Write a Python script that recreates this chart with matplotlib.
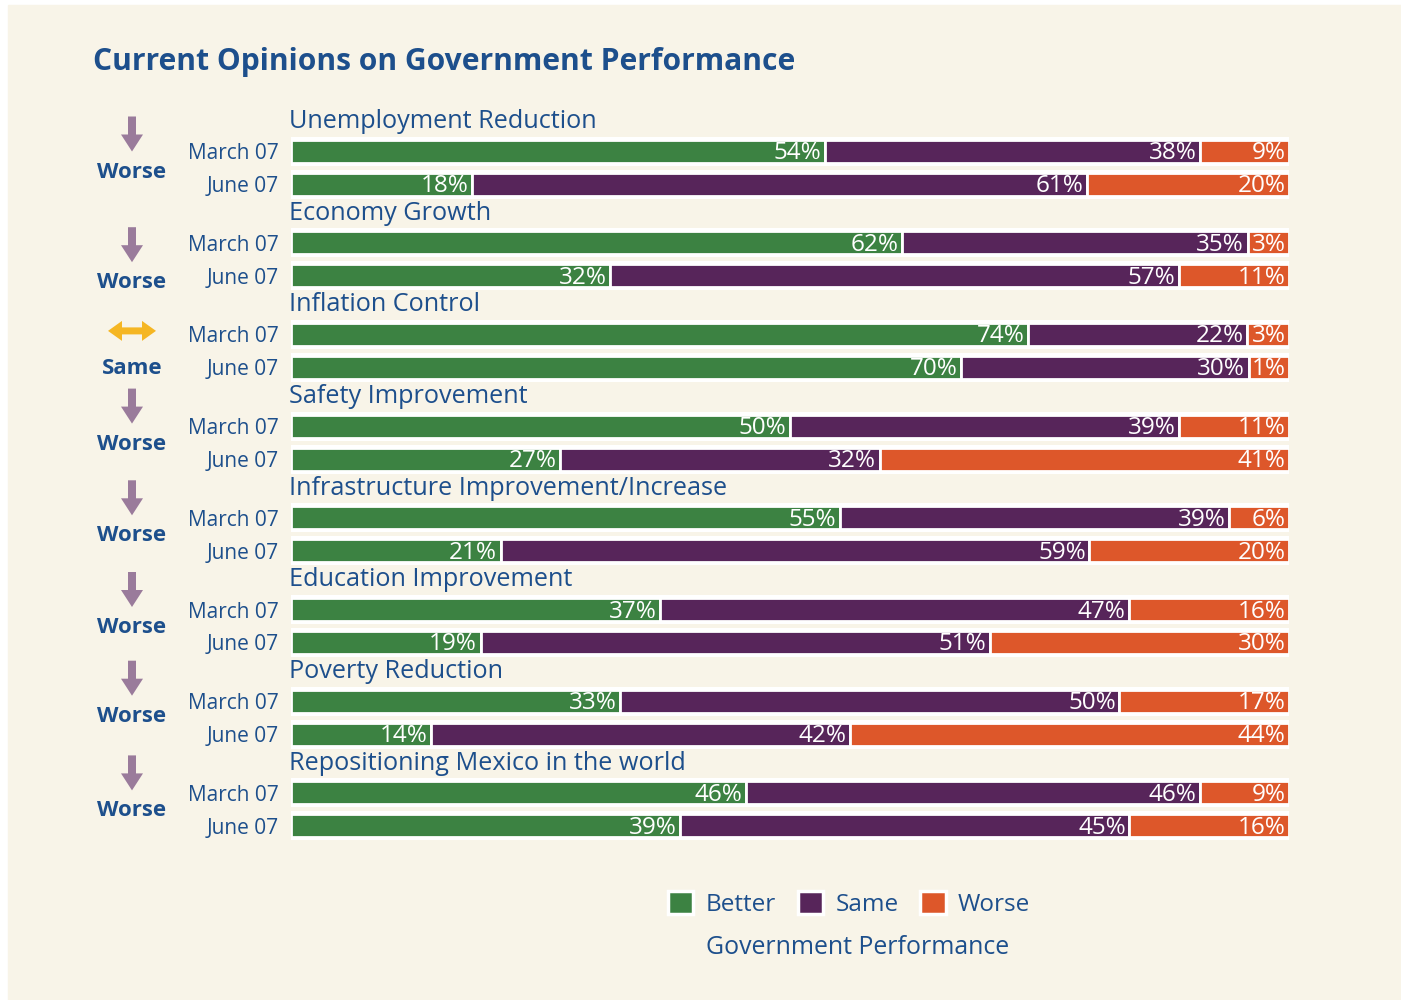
import matplotlib
matplotlib.use('Agg')
import matplotlib.pyplot as plt
from matplotlib.patches import Rectangle, Patch, FancyArrow

plt.rcParams['font.family'] = ['Open Sans', 'DejaVu Sans']

groups = ['Unemployment Reduction', 'Economy Growth', 'Inflation Control',
          'Safety Improvement', 'Infrastructure Improvement/Increase',
          'Education Improvement', 'Poverty Reduction',
          'Repositioning Mexico in the world']
periods = ['March 07', 'June 07']
better_march = [54, 62, 74, 50, 55, 37, 33, 46]
same_march = [38, 35, 22, 39, 39, 47, 50, 46]
worse_march = [9, 3, 3, 11, 6, 16, 17, 9]
better_june = [18, 32, 70, 27, 21, 19, 14, 39]
same_june = [61, 57, 30, 32, 59, 51, 42, 45]
worse_june = [20, 11, 1, 41, 20, 30, 44, 16]
trend = ['Worse', 'Worse', 'Same', 'Worse', 'Worse', 'Worse', 'Worse', 'Worse']

GREEN = '#3c8242'
PURPLE = '#57255a'
ORANGE = '#dd572a'
BLUE = '#1d4f8c'
BG = '#f8f4e8'
ARROW_DOWN = '#9a7b9b'
ARROW_SAME = '#f5b623'

W, H = 1401, 1000
fig = plt.figure(figsize=(W / 100, H / 100), dpi=100)
fig.patch.set_facecolor('white')

# pixel-space layer for background and decorations
lay = fig.add_axes([0, 0, 1, 1])
lay.set_xlim(0, W)
lay.set_ylim(H, 0)
lay.axis('off')
lay.add_patch(Rectangle((8, 5), W, H, color=BG, zorder=0))

# bar axes: x in percent, y in pixel rows
ax = fig.add_axes([291 / W, 0, 998 / W, 1])
ax.set_xlim(0, 100)
ax.set_ylim(H, 0)
ax.axis('off')
ax.patch.set_alpha(0)

first_y, step, gap = 151, 91.7, 33
min_seg = 4.2  # smallest drawn segment so its label fits
# nudges for the left-hand trend markers
marker_shift = [3, 22, 16, 0, 0, 0, -3, 0]

lay.text(93, 70, 'Current Opinions on Government Performance', fontsize=21.6,
         fontweight='bold', color=BLUE, ha='left', va='baseline')

rows = [(better_march, same_march, worse_march),
        (better_june, same_june, worse_june)]
colors = [GREEN, PURPLE, ORANGE]

for g, name in enumerate(groups):
    y0 = first_y + g * step
    ax.text(-0.2, y0 - 23, name, fontsize=18.2, color=BLUE, ha='left',
            va='baseline')
    for p, (period, series) in enumerate(zip(periods, rows)):
        y = y0 + p * gap
        vals = [s[g] for s in series]
        shown = [max(v, min_seg) for v in vals]
        total = sum(shown)
        ax.barh(y, 100.8, left=-0.4, height=29, color='white', zorder=1)
        left = 0
        for v, s, c in zip(vals, shown, colors):
            w = s / total * 100
            ax.barh(y, w, left=left, height=23, color=c, edgecolor='white',
                    linewidth=2, zorder=2)
            ax.text(left + w - 0.35, y + 8, f'{v}%', color='white',
                    fontsize=17.5, ha='right', va='baseline', zorder=3)
            left += w
        ax.text(-1.2, y + 8, period, fontsize=15, color=BLUE, ha='right',
                va='baseline')

    mid = y0 + gap / 2 + marker_shift[g]
    cx = 132
    if trend[g] == 'Same':
        ay = mid - 36
        for d in (-1, 1):
            lay.add_patch(FancyArrow(cx, ay, d * 24, 0, width=7, head_width=20,
                                     head_length=14, length_includes_head=True,
                                     color=ARROW_SAME, lw=0))
    else:
        lay.add_patch(FancyArrow(cx, mid - 54, 0, 35, width=8, head_width=22,
                                 head_length=17, length_includes_head=True,
                                 color=ARROW_DOWN, lw=0))
    lay.text(cx, mid + 7, trend[g], fontsize=16, fontweight='bold', color=BLUE,
             ha='center', va='baseline')

handles = [Patch(facecolor=c, edgecolor='white', linewidth=2.5) for c in colors]
fig.legend(handles, ['Better', 'Same', 'Worse'], loc='center',
           bbox_to_anchor=(849 / W, 1 - 904 / H), ncol=3, frameon=False,
           fontsize=17.5, handlelength=1.05, handleheight=1.05,
           handletextpad=0.5, columnspacing=0.9, labelcolor=BLUE)
lay.text(858, 948, 'Government Performance', fontsize=17.9, color=BLUE,
         ha='center', va='center')

fig.savefig('out.png', dpi=100, facecolor=fig.get_facecolor())
